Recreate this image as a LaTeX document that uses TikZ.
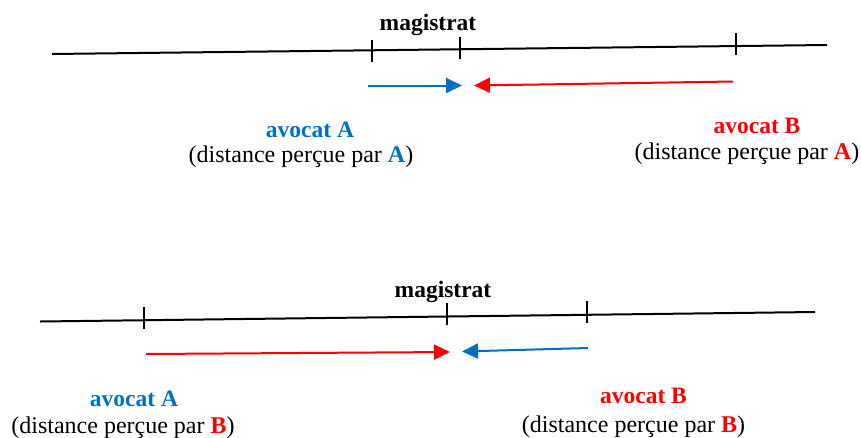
\documentclass[tikz,border=0pt]{standalone}
\usepackage{fontspec}
\setmainfont{Liberation Serif}
\usetikzlibrary{arrows.meta}
\definecolor{ablue}{RGB}{0,112,192}
\definecolor{bred}{RGB}{255,0,0}
\tikzset{
  axisline/.style={line width=2pt, black},
  tickmark/.style={line width=2pt, black},
  bluearrow/.style={line width=2pt, ablue, -{Triangle[length=16pt,width=15pt]}},
  redarrow/.style={line width=2pt, bred, -{Triangle[length=16pt,width=15pt]}},
  lbl/.style={anchor=base, inner sep=0pt, font=\fontsize{23.5}{28}\selectfont},
  dlbl/.style={anchor=base, inner sep=0pt, font=\fontsize{24}{28}\selectfont},
}
\begin{document}
\begin{tikzpicture}[x=1pt,y=-1pt]
\useasboundingbox (0,0) rectangle (861,437);
% ---------- top diagram ----------
\coordinate (t0) at (52,54);
\coordinate (t1) at (827,45);
\draw[axisline] (t0) -- (t1);
\coordinate (tk1) at (372,50.5);
\coordinate (tk2) at (460,47.5);
\coordinate (tk3) at (736,44);
\foreach \c in {tk1,tk2,tk3}
  \draw[tickmark] ([yshift=11pt]\c) -- ([yshift=-11pt]\c);
\node[lbl] (tmag) at (428,30.5) {\textbf{magistrat}};
\coordinate (tba) at (368,85.5);
\coordinate (tbb) at (462,85.5);
\draw[bluearrow] (tba) -- (tbb);
\coordinate (tra) at (733,81.5);
\coordinate (trb) at (474,85.5);
\draw[redarrow] (tra) -- (trb);
\node[lbl, text=ablue] (taA) at (310,137) {\textbf{avocat A}};
\node[dlbl] (tdA) at (301,162) {(distance perçue par \textcolor{ablue}{\textbf{A}})};
\node[lbl, text=bred] (taB) at (757,133) {\textbf{avocat B}};
\node[dlbl] (tdB) at (747,159) {(distance perçue par \textcolor{bred}{\textbf{A}})};
% ---------- bottom diagram ----------
\coordinate (b0) at (40,321.5);
\coordinate (b1) at (815,312);
\draw[axisline] (b0) -- (b1);
\coordinate (bk1) at (144,318);
\coordinate (bk2) at (447,314);
\coordinate (bk3) at (587,312);
\foreach \c in {bk1,bk2,bk3}
  \draw[tickmark] ([yshift=11pt]\c) -- ([yshift=-11pt]\c);
\node[lbl] (bmag) at (443,297) {\textbf{magistrat}};
\coordinate (bra) at (146,354);
\coordinate (brb) at (450,352);
\draw[redarrow] (bra) -- (brb);
\coordinate (bba) at (588,348);
\coordinate (bbb) at (462,351.5);
\draw[bluearrow] (bba) -- (bbb);
\node[lbl, text=ablue] (baA) at (134,406) {\textbf{avocat A}};
\node[dlbl] (bdA) at (123,433) {(distance perçue par \textcolor{bred}{\textbf{B}})};
\node[lbl, text=bred] (baB) at (643.5,403) {\textbf{avocat B}};
\node[dlbl] (bdB) at (633.5,432) {(distance perçue par \textcolor{bred}{\textbf{B}})};
\end{tikzpicture}
\end{document}
